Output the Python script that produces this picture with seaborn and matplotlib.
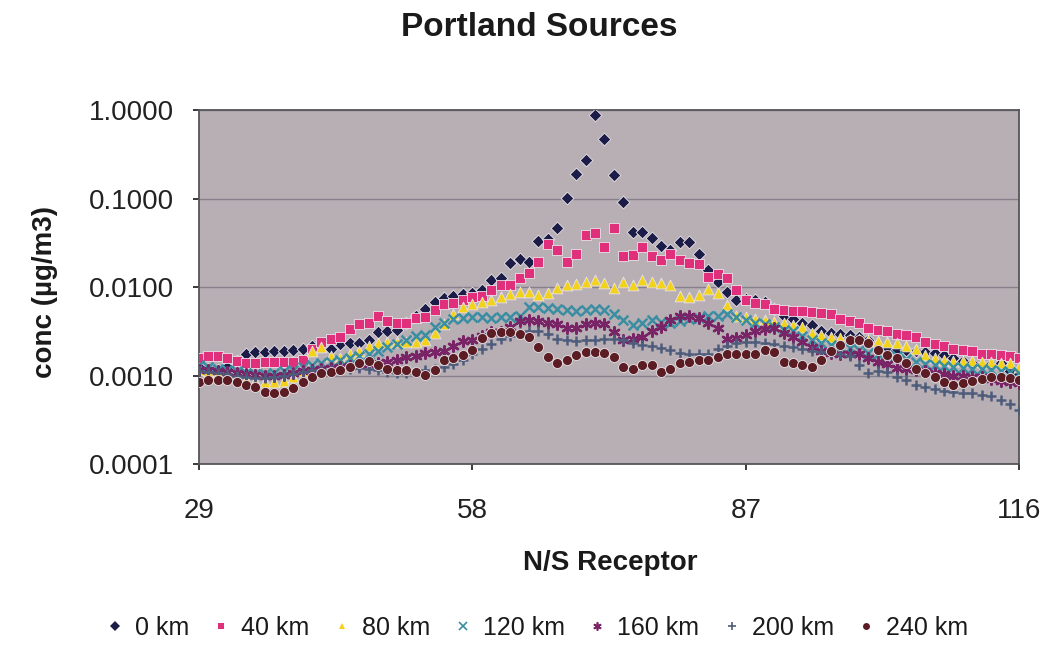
import numpy as np
import pandas as pd
import matplotlib
matplotlib.use("Agg")
import matplotlib.pyplot as plt
import seaborn as sns
from matplotlib.lines import Line2D

# ---------------- data (log10 of conc in ug/m3) -------------
receptors = list(range(29, 117))
series_labels = ["0 km", "40 km", "80 km", "120 km", "160 km", "200 km", "240 km"]

log_0km = [-2.90, -2.92, -2.93, -2.90, -2.83, -2.76, -2.73, -2.73, -2.72, -2.72,
           -2.71, -2.70, -2.66, -2.66, -2.70, -2.64, -2.63, -2.63, -2.60, -2.51,
           -2.49, -2.48, -2.40, -2.32, -2.25, -2.17, -2.12, -2.10, -2.08, -2.06,
           -2.03, -1.92, -1.90, -1.73, -1.68, -1.72, -1.48, -1.45, -1.33, -0.99,
           -0.72, -0.56, -0.05, -0.33, -0.73, -1.04, -1.38, -1.38, -1.44, -1.53,
           -1.58, -1.49, -1.49, -1.62, -1.81, -1.94, -2.05, -2.15, -2.13, -2.15,
           -2.17, -2.25, -2.32, -2.36, -2.40, -2.43, -2.50, -2.52, -2.53, -2.54,
           -2.56, -2.60, -2.66, -2.68, -2.70, -2.71, -2.72, -2.73, -2.74, -2.77,
           -2.80, -2.83, -2.86, -2.88, -2.87, -2.86, -2.95, -2.98]

log_40km = [-2.80, -2.78, -2.78, -2.80, -2.83, -2.86, -2.86, -2.85, -2.85, -2.84,
            -2.84, -2.82, -2.70, -2.62, -2.58, -2.56, -2.47, -2.42, -2.41, -2.32,
            -2.38, -2.40, -2.40, -2.35, -2.34, -2.26, -2.19, -2.18, -2.14, -2.11,
            -2.10, -2.03, -1.98, -1.97, -1.90, -1.84, -1.72, -1.51, -1.58, -1.72,
            -1.62, -1.41, -1.39, -1.55, -1.33, -1.65, -1.64, -1.55, -1.65, -1.69,
            -1.63, -1.69, -1.73, -1.74, -1.88, -1.85, -1.90, -2.03, -2.15, -2.18,
            -2.19, -2.25, -2.26, -2.27, -2.27, -2.28, -2.29, -2.30, -2.36, -2.38,
            -2.40, -2.46, -2.48, -2.50, -2.53, -2.54, -2.56, -2.62, -2.64, -2.66,
            -2.70, -2.71, -2.72, -2.75, -2.76, -2.77, -2.78, -2.80]

log_80km = [-2.93, -2.95, -2.97, -3.00, -3.02, -3.05, -3.06, -3.07, -3.07, -3.06,
            -3.02, -2.95, -2.72, -2.68, -2.78, -2.80, -2.76, -2.72, -2.66, -2.63,
            -2.62, -2.62, -2.62, -2.62, -2.60, -2.52, -2.42, -2.30, -2.22, -2.19,
            -2.17, -2.15, -2.11, -2.08, -2.05, -2.05, -2.09, -2.07, -2.01, -1.98,
            -1.96, -1.94, -1.92, -1.95, -2.01, -1.94, -1.98, -1.92, -1.94, -1.95,
            -1.98, -2.10, -2.11, -2.09, -2.02, -2.07, -2.20, -2.32, -2.34, -2.36,
            -2.37, -2.39, -2.40, -2.43, -2.45, -2.52, -2.54, -2.56, -2.57, -2.58,
            -2.59, -2.60, -2.61, -2.62, -2.63, -2.66, -2.70, -2.77, -2.80, -2.82,
            -2.83, -2.83, -2.83, -2.84, -2.85, -2.86, -2.86, -2.90]

log_120km = [-2.88, -2.90, -2.92, -2.94, -2.95, -2.97, -2.98, -2.98, -2.97, -2.95,
             -2.93, -2.90, -2.88, -2.86, -2.84, -2.82, -2.80, -2.78, -2.76, -2.72,
             -2.68, -2.64, -2.60, -2.55, -2.54, -2.45, -2.40, -2.36, -2.35, -2.34,
             -2.34, -2.35, -2.34, -2.34, -2.33, -2.22, -2.22, -2.24, -2.25, -2.26,
             -2.27, -2.26, -2.25, -2.26, -2.30, -2.37, -2.43, -2.40, -2.37, -2.39,
             -2.40, -2.38, -2.36, -2.35, -2.33, -2.32, -2.30, -2.34, -2.37, -2.40,
             -2.42, -2.45, -2.48, -2.50, -2.55, -2.60, -2.63, -2.65, -2.67, -2.69,
             -2.71, -2.74, -2.76, -2.77, -2.78, -2.81, -2.84, -2.87, -2.88, -2.89,
             -2.90, -2.91, -2.92, -2.92, -2.94, -2.95, -2.96, -2.97]

log_160km = [-2.93, -2.94, -2.95, -2.96, -2.97, -2.98, -2.99, -3.00, -3.00, -2.99,
             -2.97, -2.95, -2.93, -2.92, -2.91, -2.90, -2.89, -2.88, -2.87, -2.86,
             -2.85, -2.82, -2.79, -2.78, -2.74, -2.73, -2.72, -2.66, -2.61, -2.60,
             -2.55, -2.51, -2.51, -2.45, -2.38, -2.37, -2.38, -2.40, -2.42, -2.46,
             -2.46, -2.42, -2.41, -2.42, -2.51, -2.60, -2.58, -2.56, -2.50, -2.45,
             -2.37, -2.32, -2.32, -2.35, -2.40, -2.46, -2.58, -2.57, -2.54, -2.49,
             -2.47, -2.46, -2.52, -2.56, -2.62, -2.68, -2.72, -2.74, -2.75, -2.75,
             -2.76, -2.80, -2.85, -2.87, -2.91, -2.92, -2.93, -2.95, -2.97, -2.98,
             -3.00, -3.00, -3.01, -3.02, -3.04, -3.06, -3.07, -3.08]

log_200km = [-2.95, -2.96, -2.97, -2.98, -3.00, -3.02, -3.03, -3.03, -3.02, -3.00,
             -2.98, -2.96, -2.94, -2.93, -2.93, -2.92, -2.92, -2.91, -2.92, -2.94,
             -2.96, -2.97, -2.97, -2.96, -2.94, -2.92, -2.90, -2.87, -2.82, -2.76,
             -2.70, -2.64, -2.58, -2.55, -2.52, -2.50, -2.49, -2.53, -2.58, -2.60,
             -2.61, -2.60, -2.60, -2.58, -2.58, -2.60, -2.63, -2.65, -2.66, -2.69,
             -2.71, -2.74, -2.75, -2.76, -2.76, -2.70, -2.66, -2.63, -2.62, -2.62,
             -2.63, -2.64, -2.66, -2.68, -2.70, -2.72, -2.73, -2.74, -2.75, -2.78,
             -2.88, -2.97, -2.95, -2.96, -3.02, -3.05, -3.11, -3.13, -3.15, -3.17,
             -3.18, -3.19, -3.20, -3.22, -3.23, -3.28, -3.32, -3.39]

log_240km = [-3.07, -3.05, -3.05, -3.05, -3.07, -3.11, -3.13, -3.18, -3.19, -3.18,
             -3.14, -3.07, -3.02, -2.97, -2.96, -2.94, -2.90, -2.86, -2.83, -2.88,
             -2.92, -2.94, -2.94, -2.96, -2.99, -2.94, -2.82, -2.80, -2.77, -2.71,
             -2.57, -2.52, -2.51, -2.51, -2.53, -2.56, -2.68, -2.79, -2.86, -2.82,
             -2.77, -2.73, -2.73, -2.74, -2.79, -2.90, -2.92, -2.88, -2.88, -2.96,
             -2.92, -2.86, -2.85, -2.82, -2.82, -2.79, -2.75, -2.75, -2.75, -2.75,
             -2.71, -2.73, -2.85, -2.86, -2.88, -2.90, -2.82, -2.72, -2.65, -2.60,
             -2.60, -2.63, -2.71, -2.77, -2.80, -2.86, -2.92, -2.97, -3.02, -3.07,
             -3.11, -3.08, -3.06, -3.04, -3.02, -3.02, -3.03, -3.05]

y_ticks = [0.0001, 0.001, 0.01, 0.1, 1.0]
y_tick_labels = ["0.0001", "0.0010", "0.0100", "0.1000", "1.0000"]
x_ticks = [29, 58, 87, 116]

# ---------------- build table ----------------
all_logs = [log_0km, log_40km, log_80km, log_120km, log_160km, log_200km, log_240km]
frames = []
for lab, lg in zip(series_labels, all_logs):
    frames.append(pd.DataFrame({"receptor": receptors,
                                "conc": np.power(10.0, np.array(lg)),
                                "series": lab}))
df = pd.concat(frames, ignore_index=True)

colors = {"0 km": "#1c1c48", "40 km": "#e0307c", "80 km": "#f2d21a",
          "120 km": "#3a8ea2", "160 km": "#7a2468", "200 km": "#4e5c7c",
          "240 km": "#5c1c24"}
markers = {"0 km": "D", "40 km": "s", "80 km": "^", "120 km": "x",
           "160 km": (6, 2, 0), "200 km": "+", "240 km": "o"}
sizes = {"0 km": 42, "40 km": 50, "80 km": 60, "120 km": 50,
         "160 km": 55, "200 km": 62, "240 km": 52}

# ---------------- figure ----------------
sns.set_theme(style="white")
plt.rcParams["font.family"] = ["Liberation Sans", "DejaVu Sans"]

fig = plt.figure(figsize=(10.52, 6.52), dpi=100)
fig.patch.set_facecolor("white")
ax = fig.add_axes([0.189, 0.288, 0.780, 0.543])
ax.set_facecolor("#b8afb5")

for lab in series_labels:
    sub = df[df["series"] == lab]
    filled = lab in ("0 km", "40 km", "80 km", "240 km")
    kw = dict(edgecolor="#e8e4e8", linewidth=0.6) if filled else dict(linewidth=1.8)
    sns.scatterplot(data=sub, x="receptor", y="conc", ax=ax, color=colors[lab],
                    marker=markers[lab], s=sizes[lab], legend=False, zorder=3, **kw)

ax.set_yscale("log")
ax.set_ylim(1e-4, 1.0)
ax.set_xlim(29, 116)
ax.set_yticks(y_ticks)
ax.set_yticklabels(y_tick_labels)
ax.minorticks_off()
ax.set_xticks(x_ticks)
ax.set_xticklabels([str(t) for t in x_ticks])
ax.grid(axis="y", color="#86808a", linewidth=1.0, zorder=0)
ax.set_axisbelow(True)
for sp in ax.spines.values():
    sp.set_color("#55555a")
    sp.set_linewidth(1.3)
ax.tick_params(axis="x", labelsize=20, pad=20, length=4, direction="out",
               colors="#222222", bottom=True)
ax.tick_params(axis="y", labelsize=20, pad=14, length=4, direction="out",
               colors="#222222", left=True)
ax.set_xlabel("")
ax.set_ylabel("")

fig.text(0.513, 0.958, "Portland Sources", ha="center", va="center",
         fontsize=24, fontweight="bold", color="#1a1a1a")
fig.text(0.043, 0.552, "conc (µg/m3)", ha="center", va="center", rotation=90,
         fontsize=20, fontweight="bold", color="#1a1a1a")
fig.text(0.580, 0.136, "N/S Receptor", ha="center", va="center",
         fontsize=20, fontweight="bold", color="#1a1a1a")

handles = []
for lab in series_labels:
    filled = lab in ("0 km", "40 km", "80 km", "240 km")
    mk = markers[lab]
    handles.append(Line2D([0], [0], linestyle="none", marker=mk, color=colors[lab],
                          markersize=5 if filled else 6,
                          markeredgewidth=0 if filled else 1.2))
fig.legend(handles, series_labels, loc="center", bbox_to_anchor=(0.51, 0.037),
           ncol=7, frameon=False, fontsize=18, handlelength=0.8,
           handletextpad=0.4, columnspacing=0.9, labelcolor="#1a1a1a")

fig.savefig("out.png", dpi=100)
